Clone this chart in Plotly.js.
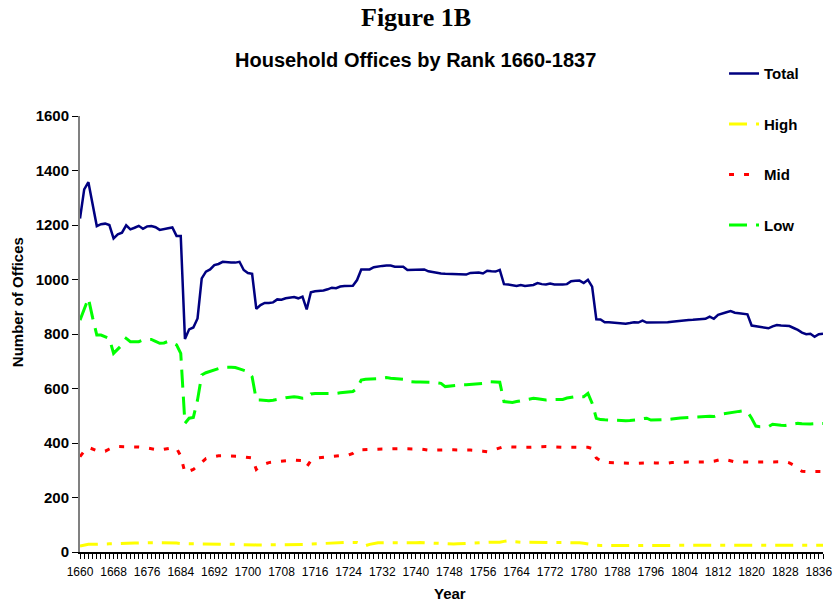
<!DOCTYPE html>
<html>
<head>
<meta charset="utf-8">
<script src="https://cdn.plot.ly/plotly-3.0.1.min.js"></script>
<style>html,body{margin:0;padding:0;background:#fff;}#chart{width:835px;height:604px;}</style>
</head>
<body>
<div id="chart"></div>
<script>
const years = [1660,1661,1662,1663,1664,1665,1666,1667,1668,1669,1670,1671,1672,1673,1674,1675,1676,1677,1678,1679,
1680,1681,1682,1683,1684,1685,1686,1687,1688,1689,1690,1691,1692,1693,1694,1695,1696,1697,1698,1699,
1700,1701,1702,1703,1704,1705,1706,1707,1708,1709,1710,1711,1712,1713,1714,1715,1716,1717,1718,1719,
1720,1721,1722,1723,1724,1725,1726,1727,1728,1729,1730,1731,1732,1733,1734,1735,1736,1737,1738,1739,
1740,1741,1742,1743,1744,1745,1746,1747,1748,1749,1750,1751,1752,1753,1754,1755,1756,1757,1758,1759,
1760,1761,1762,1763,1764,1765,1766,1767,1768,1769,1770,1771,1772,1773,1774,1775,1776,1777,1778,1779,
1780,1781,1782,1783,1784,1785,1786,1787,1788,1789,1790,1791,1792,1793,1794,1795,1796,1797,1798,1799,
1800,1801,1802,1803,1804,1805,1806,1807,1808,1809,1810,1811,1812,1813,1814,1815,1816,1817,1818,1819,
1820,1821,1822,1823,1824,1825,1826,1827,1828,1829,1830,1831,1832,1833,1834,1835,1836,1837];

const total = [1224,1331,1357,1280,1196,1203,1205,1200,1151,1166,1172,1199,1184,1190,1197,1186,1195,1196,1192,1182,
1184,1188,1191,1160,1160,782,817,824,857,1004,1029,1037,1053,1057,1065,1063,1062,1062,1065,1035,
1024,1021,892,906,914,914,916,927,926,931,934,936,931,937,890,953,957,958,960,964,
970,968,974,976,977,977,998,1037,1037,1037,1045,1048,1050,1051,1051,1047,1047,1047,1035,1035,
1035,1036,1037,1030,1027,1024,1022,1021,1020,1019,1020,1018,1018,1024,1024,1026,1022,1032,1030,1029,
1035,983,982,980,976,980,976,978,980,987,983,982,985,982,981,982,983,994,995,996,
987,999,974,854,853,843,843,842,842,840,838,840,843,842,849,842,842,842,842,842,
843,845,847,849,850,851,852,853,854,856,864,856,870,876,880,884,878,876,873,872,
831,828,825,822,821,828,833,831,830,829,822,815,805,799,801,790,799,801];

const high = [22,25,28,28,29,29,30,30,30,31,31,32,32,33,33,34,34,34,34,34,
34,34,34,33,31,30,30,30,30,30,30,30,30,30,30,30,30,29,28,27,
26,26,26,26,26,26,26,26,26,26,26,26,26,26,28,29,30,31,32,33,
34,34,34,35,35,35,35,30,23,28,32,34,34,34,33,33,33,32,32,33,
34,35,34,33,32,31,30,29,28,29,30,31,32,32,32,33,34,35,36,36,
36,39,41,38,36,36,36,36,36,36,36,35,34,34,34,34,34,34,34,34,
32,29,27,25,24,24,24,24,24,24,24,24,24,24,24,24,24,24,24,24,
24,24,24,24,24,25,25,25,25,25,25,25,25,25,25,25,25,25,25,25,
25,25,25,25,25,25,25,25,25,25,25,25,25,25,25,25,25,25];

const mid = [350,370,384,377,372,369,370,378,385,387,387,387,387,386,385,384,382,380,377,374,
377,380,382,381,352,291,296,303,315,330,343,347,350,353,353,353,353,353,351,349,
347,345,303,315,323,328,330,332,334,335,336,337,337,335,313,335,344,346,348,350,
352,353,354,355,356,362,374,375,375,376,376,377,378,379,379,379,379,379,379,379,
379,378,376,374,372,374,375,376,375,375,374,374,374,374,374,372,370,368,372,378,
382,387,386,385,384,384,384,384,384,385,386,387,386,385,384,384,384,384,384,384,
384,384,380,345,335,330,328,328,328,328,327,326,325,326,327,328,328,327,326,325,
326,328,329,330,330,330,330,330,330,331,331,333,337,341,338,334,331,331,330,330,
330,330,330,330,330,330,331,331,331,327,319,305,296,295,295,295,295,295];

const low = [851,895,931,860,796,796,790,784,729,745,760,784,772,772,772,778,779,780,773,766,
767,773,768,760,729,472,491,494,558,650,658,663,670,673,674,678,678,677,672,668,
662,643,558,558,556,555,557,559,563,566,568,570,568,564,565,580,582,582,582,581,
580,582,584,586,588,589,600,631,634,634,635,636,638,640,638,636,635,634,626,624,
624,624,624,623,623,621,619,607,609,611,613,614,614,615,616,618,619,625,624,624,
623,552,550,549,552,555,558,561,564,562,560,558,559,560,560,560,565,568,570,570,
570,582,546,491,486,485,484,483,483,482,482,483,484,486,489,491,484,484,484,484,
486,488,491,492,493,494,496,497,498,499,498,497,503,506,509,512,514,516,518,515,
491,462,460,460,460,469,466,465,464,467,470,472,471,470,470,471,472,472];

const seriesNames = ['Total','High','Mid','Low'];
const seriesColors = ['#000080','#FFFF00','#FF0000','#00FF00'];

const traces = [
  {x: years, y: total, name: seriesNames[0], legendgroup: 'g1', type: 'scatter', mode: 'lines',
   line: {color: seriesColors[0], width: 2.5}},
  {x: years, y: high, name: seriesNames[1], legendgroup: 'g2', type: 'scatter', mode: 'lines',
   line: {color: seriesColors[1], width: 3, dash: '18px,9px,5px,9px'}},
  {x: years, y: mid, name: seriesNames[2], legendgroup: 'g3', type: 'scatter', mode: 'lines',
   line: {color: seriesColors[2], width: 3, dash: '5px,10px'}},
  {x: years, y: low, name: seriesNames[3], legendgroup: 'g4', type: 'scatter', mode: 'lines',
   line: {color: seriesColors[3], width: 3, dash: '18px,9px'}}
];

const layout = {
  width: 835, height: 604,
  margin: {l: 80, r: 12, t: 116, b: 52},
  paper_bgcolor: '#fff', plot_bgcolor: '#fff',
  font: {family: 'Liberation Sans, Arial, sans-serif', color: '#000'},
  showlegend: true,
  legend: {x: 0.8668, xanchor: 'left', y: 1.135, yanchor: 'top', traceorder: 'grouped',
           tracegroupgap: 28, bgcolor: 'rgba(0,0,0,0)',
           font: {family: 'Liberation Sans, Arial, sans-serif', size: 15, color: '#000', weight: 'bold'}},
  xaxis: {
    range: [1660, 1837], tick0: 1660, dtick: 8, tickangle: 0, showgrid: false, zeroline: false,
    showline: true, linecolor: '#000', linewidth: 1.5,
    ticks: 'outside', ticklen: 5, tickcolor: '#000', tickwidth: 1, ticklabelstandoff: 3,
    minor: {dtick: 1, tick0: 1660, ticks: 'outside', ticklen: 5, tickcolor: '#000', tickwidth: 1, showgrid: false},
    tickfont: {size: 12, family: 'Liberation Sans, Arial, sans-serif'}
  },
  yaxis: {
    range: [0, 1600], dtick: 200, showgrid: false, zeroline: false,
    showline: true, linecolor: '#808080', linewidth: 2,
    ticks: 'outside', ticklen: 6, tickcolor: '#000', tickwidth: 1,
    tickfont: {size: 15, weight: 'bold', family: 'Liberation Sans, Arial, sans-serif'}
  },
  annotations: [
    {text: 'Figure 1B', xref: 'paper', yref: 'paper', x: 0.452, y: 1.2248, xanchor: 'center', yanchor: 'middle',
     showarrow: false, font: {family: 'Liberation Serif, Times New Roman, serif', size: 26, weight: 'bold', color: '#000'}},
    {text: 'Household Offices by Rank 1660-1837', xref: 'paper', yref: 'paper', x: 0.452, y: 1.128,
     xanchor: 'center', yanchor: 'middle', showarrow: false,
     font: {family: 'Liberation Sans, Arial, sans-serif', size: 20, weight: 'bold', color: '#000'}},
    {text: 'Number of Offices', xref: 'paper', yref: 'paper', x: -0.0848, y: 0.573, xanchor: 'center', yanchor: 'middle',
     textangle: -90, showarrow: false, font: {size: 15, weight: 'bold', color: '#000'}},
    {text: 'Year', xref: 'paper', yref: 'paper', x: 0.498, y: -0.0963, xanchor: 'center', yanchor: 'middle',
     showarrow: false, font: {size: 15, weight: 'bold', color: '#000'}}
  ]
};

Plotly.newPlot('chart', traces, layout, {displayModeBar: false, staticPlot: true});
</script>
</body>
</html>
